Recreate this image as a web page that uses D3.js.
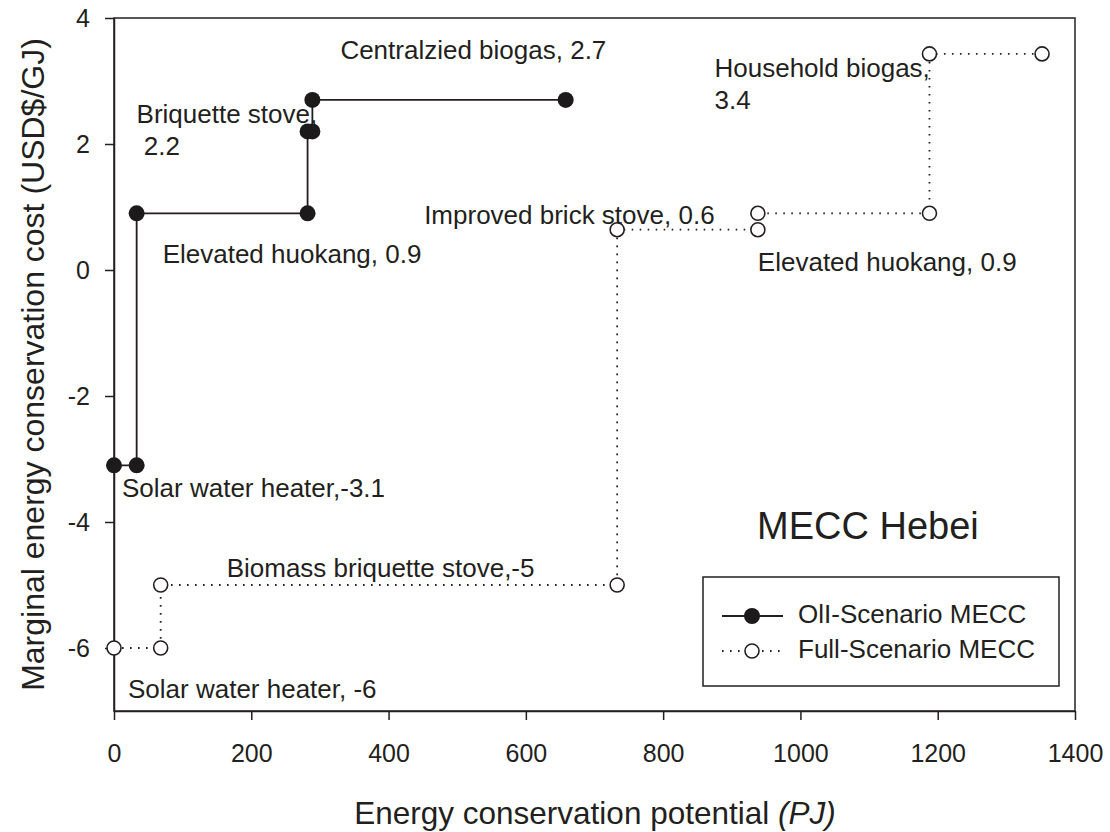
<!DOCTYPE html>
<html>
<head>
<meta charset="utf-8">
<script src="https://cdn.jsdelivr.net/npm/d3@7"></script>
<style>
  body { margin: 0; background: #fff; }
  text { font-family: "Liberation Sans", Arial, sans-serif; fill: #231f20; }
</style>
</head>
<body>
<div id="chart"></div>
<script>
// data
var ollX = [0, 33, 33, 282, 282, 289, 289, 658];
var ollY = [-3.1, -3.1, 0.9, 0.9, 2.2, 2.2, 2.7, 2.7];
var fullX = [0, 68, 68, 733, 733, 938, 938, 1188, 1188, 1352];
var fullY = [-6, -6, -5, -5, 0.64, 0.64, 0.9, 0.9, 3.43, 3.43];
var xTicks = [0, 200, 400, 600, 800, 1000, 1200, 1400];
var yTicks = [-6, -4, -2, 0, 2, 4];
var seriesNames = ["OlI-Scenario MECC", "Full-Scenario MECC"];

// annotation text, tied to a point of a series
var labelText = [
  ["Centralzied biogas, 2.7"],
  ["Briquette stove,", " 2.2"],
  ["Elevated huokang, 0.9"],
  ["Solar water heater,-3.1"],
  ["Solar water heater, -6"],
  ["Biomass briquette stove,-5"],
  ["Improved brick stove, 0.6"],
  ["Elevated huokang, 0.9"],
  ["Household biogas,", "3.4"]
];
var labelSeries = ["oll", "oll", "oll", "oll", "full", "full", "full", "full", "full"];
var labelPoint = [6, 4, 2, 0, 0, 2, 4, 5, 8];
// pixel offsets from that point
var labelDx = [28, -171, 26, 8, 14, 66, -193, 0, -215];
var labelDy = [-41, -8, 50, 32, 50, -8, -6, 41, 23];

var margin = {top: 18, right: 35, bottom: 121, left: 114},
    width = 1110 - margin.left - margin.right,
    height = 832 - margin.top - margin.bottom;

var svg = d3.select("#chart")
  .append("svg")
    .attr("width", width + margin.left + margin.right)
    .attr("height", height + margin.top + margin.bottom)
  .append("g")
    .attr("transform", "translate(" + margin.left + "," + margin.top + ")");

var x = d3.scaleLinear().domain([0, 1400]).range([0, width]);
var y = d3.scaleLinear().domain([-7, 4]).range([height, 0]);

// frame
svg.append("rect")
  .attr("width", width)
  .attr("height", height)
  .attr("fill", "none")
  .attr("stroke", "#231f20")
  .attr("stroke-width", 1.5);

var plain = function(d) { return String(d); };

var xAxis = svg.append("g")
  .attr("transform", "translate(0," + height + ")")
  .call(d3.axisBottom(x).tickValues(xTicks).tickFormat(plain)
    .tickSize(9).tickPadding(24).tickSizeOuter(0));
var yAxis = svg.append("g")
  .call(d3.axisLeft(y).tickValues(yTicks).tickFormat(plain)
    .tickSize(9).tickPadding(15).tickSizeOuter(0));

[xAxis, yAxis].forEach(function(a) {
  a.select(".domain").attr("stroke", "#231f20").attr("stroke-width", 1.5);
  a.selectAll(".tick line").attr("stroke", "#231f20").attr("stroke-width", 1.5);
  a.selectAll(".tick text")
    .style("font-family", "'Liberation Sans', Arial, sans-serif")
    .style("font-size", "25px")
    .attr("fill", "#231f20");
});

// axis titles
var xt = svg.append("text")
  .attr("x", (355 + 835) / 2 - margin.left)
  .attr("y", 824 - margin.top)
  .attr("text-anchor", "middle")
  .style("font-size", "31.5px");
xt.append("tspan").text("Energy conservation potential ");
xt.append("tspan").style("font-style", "italic").text("(PJ)");

svg.append("text")
  .attr("transform", "rotate(-90)")
  .attr("x", -height / 2)
  .attr("y", 44 - margin.left)
  .attr("text-anchor", "middle")
  .style("font-size", "32px")
  .text("Marginal energy conservation cost (USD$/GJ)");

var oll = ollX.map(function(d, i) { return {x: d, y: ollY[i]}; });
var full = fullX.map(function(d, i) { return {x: d, y: fullY[i]}; });
var series = {oll: oll, full: full};

var line = d3.line()
  .x(function(d) { return x(d.x); })
  .y(function(d) { return y(d.y); });

svg.append("path")
  .attr("d", line(full))
  .attr("fill", "none")
  .attr("stroke", "#231f20")
  .attr("stroke-width", 1.8)
  .attr("stroke-dasharray", "1.6,6.4");

svg.append("path")
  .attr("d", line(oll))
  .attr("fill", "none")
  .attr("stroke", "#231f20")
  .attr("stroke-width", 1.8);

svg.selectAll(".fullDot")
  .data(full)
  .enter()
  .append("circle")
    .attr("cx", function(d) { return x(d.x); })
    .attr("cy", function(d) { return y(d.y); })
    .attr("r", 7)
    .attr("fill", "#fff")
    .attr("stroke", "#231f20")
    .attr("stroke-width", 1.6);

svg.selectAll(".ollDot")
  .data(oll)
  .enter()
  .append("circle")
    .attr("cx", function(d) { return x(d.x); })
    .attr("cy", function(d) { return y(d.y); })
    .attr("r", 8)
    .attr("fill", "#1c1a1b");

// point labels
labelText.forEach(function(lines, i) {
  var p = series[labelSeries[i]][labelPoint[i]];
  var t = svg.append("text")
    .attr("x", x(p.x) + labelDx[i])
    .attr("y", y(p.y) + labelDy[i])
    .attr("xml:space", "preserve")
    .style("font-size", "26px");
  lines.forEach(function(s, j) {
    t.append("tspan")
      .attr("x", x(p.x) + labelDx[i])
      .attr("dy", j == 0 ? 0 : 32)
      .text(s);
  });
});

// panel title
svg.append("text")
  .attr("x", 757 - margin.left)
  .attr("y", 539 - margin.top)
  .style("font-size", "38px")
  .text("MECC Hebei");

// legend
var lg = svg.append("g")
  .attr("transform", "translate(" + (703 - margin.left) + "," + (577 - margin.top) + ")");
lg.append("rect")
  .attr("width", 356)
  .attr("height", 109)
  .attr("fill", "#fff")
  .attr("stroke", "#231f20")
  .attr("stroke-width", 1.5);

var legendDash = [null, "1.6,6.4"];
seriesNames.forEach(function(name, i) {
  var cy = 39 + i * 35;
  lg.append("line")
    .attr("x1", 19).attr("x2", 80)
    .attr("y1", cy).attr("y2", cy)
    .attr("stroke", "#231f20")
    .attr("stroke-width", 1.8)
    .attr("stroke-dasharray", legendDash[i]);
  lg.append("circle")
    .attr("cx", 49).attr("cy", cy)
    .attr("r", i == 0 ? 8 : 7)
    .attr("fill", i == 0 ? "#1c1a1b" : "#fff")
    .attr("stroke", i == 0 ? "none" : "#231f20")
    .attr("stroke-width", 1.6);
  lg.append("text")
    .attr("x", 95)
    .attr("y", cy + 7)
    .style("font-size", "26px")
    .text(name);
});
</script>
</body>
</html>
